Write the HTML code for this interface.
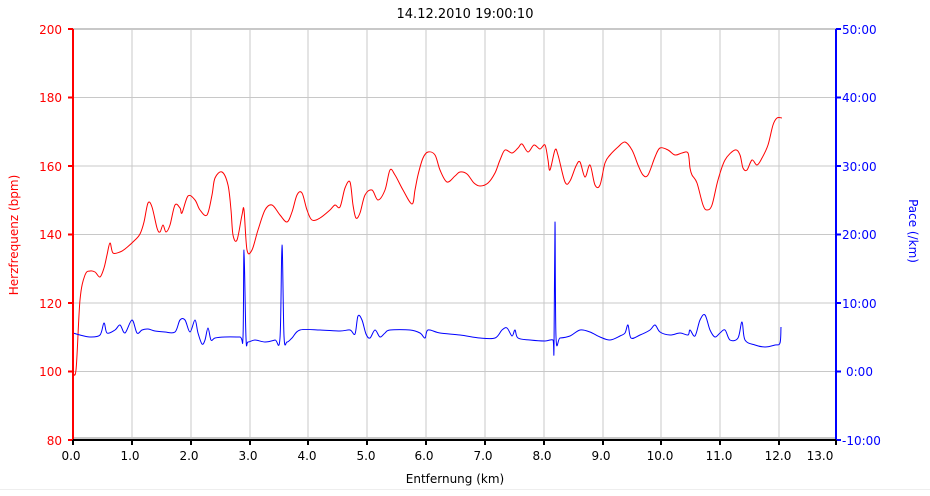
<!DOCTYPE html>
<html><head><meta charset="utf-8"><style>
html,body{margin:0;padding:0;background:#fff;}
svg{display:block;font-family:"DejaVu Sans","Liberation Sans",sans-serif;}
</style></head><body>
<svg id="s" width="930" height="496" viewBox="0 0 930 496" xmlns="http://www.w3.org/2000/svg">
<rect width="930" height="496" fill="#fff"/>
<g stroke="#c8c8c8" stroke-width="1">
<line x1="132" y1="29" x2="132" y2="440"/><line x1="191" y1="29" x2="191" y2="440"/><line x1="250" y1="29" x2="250" y2="440"/><line x1="308" y1="29" x2="308" y2="440"/><line x1="367" y1="29" x2="367" y2="440"/><line x1="426" y1="29" x2="426" y2="440"/><line x1="485" y1="29" x2="485" y2="440"/><line x1="544" y1="29" x2="544" y2="440"/><line x1="603" y1="29" x2="603" y2="440"/><line x1="661" y1="29" x2="661" y2="440"/><line x1="720" y1="29" x2="720" y2="440"/><line x1="779" y1="29" x2="779" y2="440"/>
<line x1="73" y1="29" x2="836" y2="29" stroke-width="2"/><line x1="73" y1="97.5" x2="836" y2="97.5"/><line x1="73" y1="166" x2="836" y2="166"/><line x1="73" y1="234.5" x2="836" y2="234.5"/><line x1="73" y1="303" x2="836" y2="303"/><line x1="73" y1="371.5" x2="836" y2="371.5"/>
<line x1="73" y1="438" x2="836" y2="438" stroke-width="2"/>
</g>
<polyline class="sm" fill="none" stroke="#ff0000" stroke-width="1" stroke-linejoin="round" points="72,370 76,370 80,300 85,275 90,271 95,272 100,277 104,268 107,255 110,243 113,253 120,252 125,249 135,240 140,234 144,222 148,203 152,207 157,228 160,232 163,225 166,232 170,225 175,205 180,208 182,213 188,196 195,200 200,210 207,215 212,195 215,178 222,172 228,185 231,210 233,235 237,240 242,215 244,210 247,250 252,250 258,230 265,210 272,205 280,215 287,222 292,212 297,195 302,193 307,210 312,220 320,218 330,210 335,205 340,207 345,188 350,182 353,205 356,218 360,213 365,195 372,190 378,200 385,190 390,170 395,175 403,190 412,204 415,190 418,175 423,158 428,152 435,155 440,170 447,182 455,176 460,172 467,174 474,183 480,186 488,183 495,173 500,160 505,150 512,153 518,148 522,144 528,152 534,145 540,149 545,145 548,160 550,170 555,150 558,155 565,182 570,181 576,166 580,162 585,177 590,165 595,185 600,185 605,163 610,155 618,147 625,142 632,150 638,165 643,175 648,175 655,157 660,148 668,150 675,155 682,153 688,153 690,168 692,175 697,183 703,205 707,210 712,205 718,180 725,160 735,150 740,155 743,168 747,170 752,160 757,165 762,158 768,145 773,125 777,118 782,118"/>
<polyline class="sm" fill="none" stroke="#0000ff" stroke-width="1" stroke-linejoin="round" points="73,333 80,335 90,337 100,335 104,323 107,333 115,330 120,325 125,333 132,320 137,333 142,330 148,329 155,331 165,332 175,332 180,320 185,320 190,332 195,320 198,333 202,344 205,340 208,328 211,340 215,338 225,337 240,337 243,337 244,250 246,338 248,342 255,340 265,342 275,340 280,338 282,245 284,336 287,342 292,338 300,330 320,330 340,331 350,330 355,334 358,316 362,320 366,334 370,338 375,330 380,337 385,333 390,330 410,330 420,333 425,338 428,330 440,333 460,335 480,338 495,338 502,330 507,328 512,336 515,330 518,338 530,340 545,341 553,340 554,348 555,222 556,337 560,338 570,336 580,330 590,332 600,337 610,340 620,336 625,333 628,325 631,338 640,335 650,330 655,325 660,332 670,335 680,333 688,335 690,330 695,336 700,320 705,315 710,330 715,337 720,333 725,330 730,340 738,338 742,322 745,340 755,345 765,347 775,345 780,343 781,327"/>
<line x1="73" y1="29" x2="73" y2="441" stroke="#ff0000" stroke-width="2"/>
<line x1="836" y1="29" x2="836" y2="441" stroke="#0000ff" stroke-width="2"/>
<line x1="72" y1="440" x2="837" y2="440" stroke="#000" stroke-width="2"/>
<g stroke="#ff0000" stroke-width="2">
<line x1="68" y1="29" x2="73" y2="29"/><line x1="68" y1="97.5" x2="73" y2="97.5"/><line x1="68" y1="166" x2="73" y2="166"/><line x1="68" y1="234.5" x2="73" y2="234.5"/><line x1="68" y1="303" x2="73" y2="303"/><line x1="68" y1="371.5" x2="73" y2="371.5"/><line x1="68" y1="440" x2="73" y2="440"/>
</g>
<g stroke="#0000ff" stroke-width="2">
<line x1="836" y1="29" x2="841" y2="29"/><line x1="836" y1="97.5" x2="841" y2="97.5"/><line x1="836" y1="166" x2="841" y2="166"/><line x1="836" y1="234.5" x2="841" y2="234.5"/><line x1="836" y1="303" x2="841" y2="303"/><line x1="836" y1="371.5" x2="841" y2="371.5"/><line x1="836" y1="440" x2="841" y2="440"/>
</g>
<g stroke="#000" stroke-width="2">
<line x1="73" y1="440" x2="73" y2="445"/><line x1="132" y1="440" x2="132" y2="445"/><line x1="191" y1="440" x2="191" y2="445"/><line x1="250" y1="440" x2="250" y2="445"/><line x1="308" y1="440" x2="308" y2="445"/><line x1="367" y1="440" x2="367" y2="445"/><line x1="426" y1="440" x2="426" y2="445"/><line x1="485" y1="440" x2="485" y2="445"/><line x1="544" y1="440" x2="544" y2="445"/><line x1="603" y1="440" x2="603" y2="445"/><line x1="661" y1="440" x2="661" y2="445"/><line x1="720" y1="440" x2="720" y2="445"/><line x1="779" y1="440" x2="779" y2="445"/><line x1="836" y1="440" x2="836" y2="445"/>
</g>
<text x="465" y="18" font-size="13" text-anchor="middle" fill="#000">14.12.2010 19:00:10</text>
<g font-size="12" fill="#ff0000" text-anchor="end">
<text x="62" y="34">200</text><text x="62" y="102">180</text><text x="62" y="171">160</text><text x="62" y="239">140</text><text x="62" y="308">120</text><text x="62" y="376">100</text><text x="62" y="445">80</text>
</g>
<g font-size="12" fill="#0000ff" text-anchor="start">
<text x="842" y="34">50:00</text><text x="842" y="102">40:00</text><text x="842" y="171">30:00</text><text x="842" y="239">20:00</text><text x="842" y="308">10:00</text><text x="846" y="376">0:00</text><text x="842" y="445">-10:00</text>
</g>
<g font-size="12" fill="#000" text-anchor="middle">
<text x="71" y="460">0.0</text><text x="130" y="460">1.0</text><text x="189" y="460">2.0</text><text x="248" y="460">3.0</text><text x="307" y="460">4.0</text><text x="366" y="460">5.0</text><text x="424" y="460">6.0</text><text x="483" y="460">7.0</text><text x="542" y="460">8.0</text><text x="601" y="460">9.0</text><text x="660" y="460">10.0</text><text x="719" y="460">11.0</text><text x="778" y="460">12.0</text><text x="820" y="460">13.0</text>
</g>
<text x="455" y="483" font-size="12" text-anchor="middle" fill="#000">Entfernung (km)</text>
<text transform="translate(18,235) rotate(-90)" font-size="12" text-anchor="middle" fill="#ff0000">Herzfrequenz (bpm)</text>
<text transform="translate(909,231) rotate(90)" font-size="12" text-anchor="middle" fill="#0000ff">Pace (/km)</text>
<line x1="0" y1="489.5" x2="930" y2="489.5" stroke="#eee" stroke-width="1"/>
</svg>
<script>
document.querySelectorAll('polyline.sm').forEach(function(pl){
  var p=pl.getAttribute('points').trim().split(/\s+/).map(function(s){return s.split(',').map(Number);});
  var d='M'+p[0][0]+','+p[0][1];
  for(var i=0;i<p.length-1;i++){
    var p0=p[i-1]||p[i],p1=p[i],p2=p[i+1],p3=p[i+2]||p2,t=6;
    var c1x=p1[0]+(p2[0]-p0[0])/t,c1y=p1[1]+(p2[1]-p0[1])/t;
    var c2x=p2[0]-(p3[0]-p1[0])/t,c2y=p2[1]-(p3[1]-p1[1])/t;
    c1x=Math.max(p1[0],Math.min(p2[0],c1x));c2x=Math.max(p1[0],Math.min(p2[0],c2x));
    d+=' C'+c1x.toFixed(1)+','+c1y.toFixed(1)+' '+c2x.toFixed(1)+','+c2y.toFixed(1)+' '+p2[0]+','+p2[1];
  }
  var path=document.createElementNS('http://www.w3.org/2000/svg','path');
  path.setAttribute('d',d);path.setAttribute('fill','none');
  path.setAttribute('stroke',pl.getAttribute('stroke'));path.setAttribute('stroke-width','1');
  pl.parentNode.replaceChild(path,pl);
});
</script>
</body></html>
